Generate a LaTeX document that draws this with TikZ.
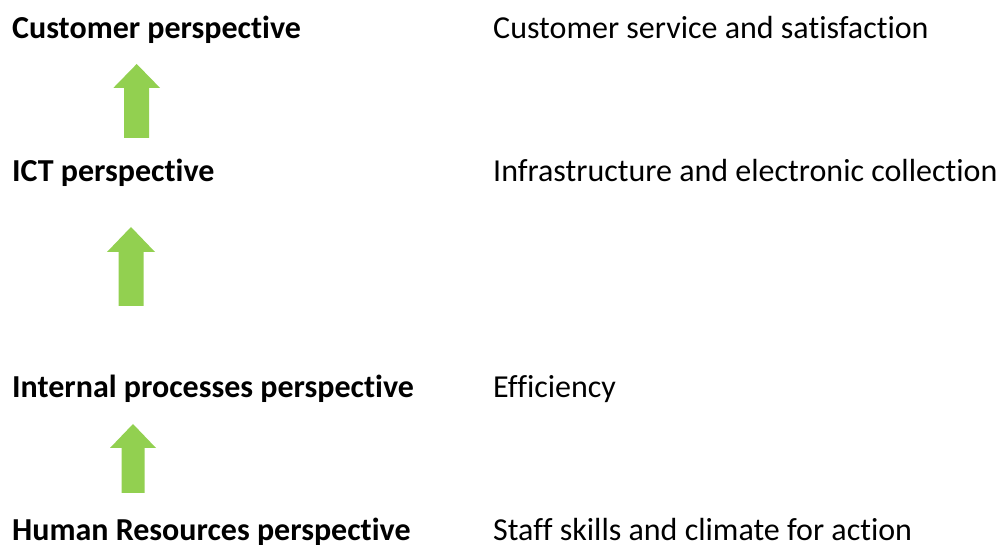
\documentclass[tikz,border=0pt]{standalone}
\usepackage{fontspec}
\setmainfont[Ligatures={NoCommon}]{Carlito}
\definecolor{arrowgreen}{HTML}{92D050}
\tikzset{
  lbl/.style={anchor=base west, inner sep=0pt, font=\fontsize{32}{38}\selectfont\bfseries},
  desc/.style={anchor=base west, inner sep=0pt, font=\fontsize{32}{38}\selectfont},
  uparrow/.style={fill=arrowgreen, draw=none}
}
\newcommand{\greenarrow}[6]{% cx tipy baseY bottomY halfhead halfbody
  \fill[uparrow] (#1pt,#2pt) -- (#1pt+#5pt,#3pt) -- (#1pt+#6pt,#3pt) -- (#1pt+#6pt,#4pt) -- (#1pt-#6pt,#4pt) -- (#1pt-#6pt,#3pt) -- (#1pt-#5pt,#3pt) -- cycle;}
\begin{document}
\begin{tikzpicture}[x=1pt,y=1pt]
\useasboundingbox (0,0) rectangle (1000,545);
\node[lbl] (c) at (12,506) {Customer perspective};
\node[desc] (cd) at (493,506) {Customer service and satisfaction};
\node[lbl] (i) at (12,363) {ICT perspective};
\node[desc] (id) at (493,363) {Infrastructure and electronic collection};
\node[lbl] (p) at (12,147) {Internal processes perspective};
\node[desc] (pd) at (493,147) {Efficiency};
\node[lbl] (h) at (12,4) {Human Resources perspective};
\node[desc] (hd) at (493,4) {Staff skills and climate for action};
\greenarrow{136.7}{481}{457}{407}{23.4}{12.5}
\greenarrow{131}{318}{293}{239}{24}{12.5}
\greenarrow{133}{121}{97}{52}{23}{11.5}
\end{tikzpicture}
\end{document}
